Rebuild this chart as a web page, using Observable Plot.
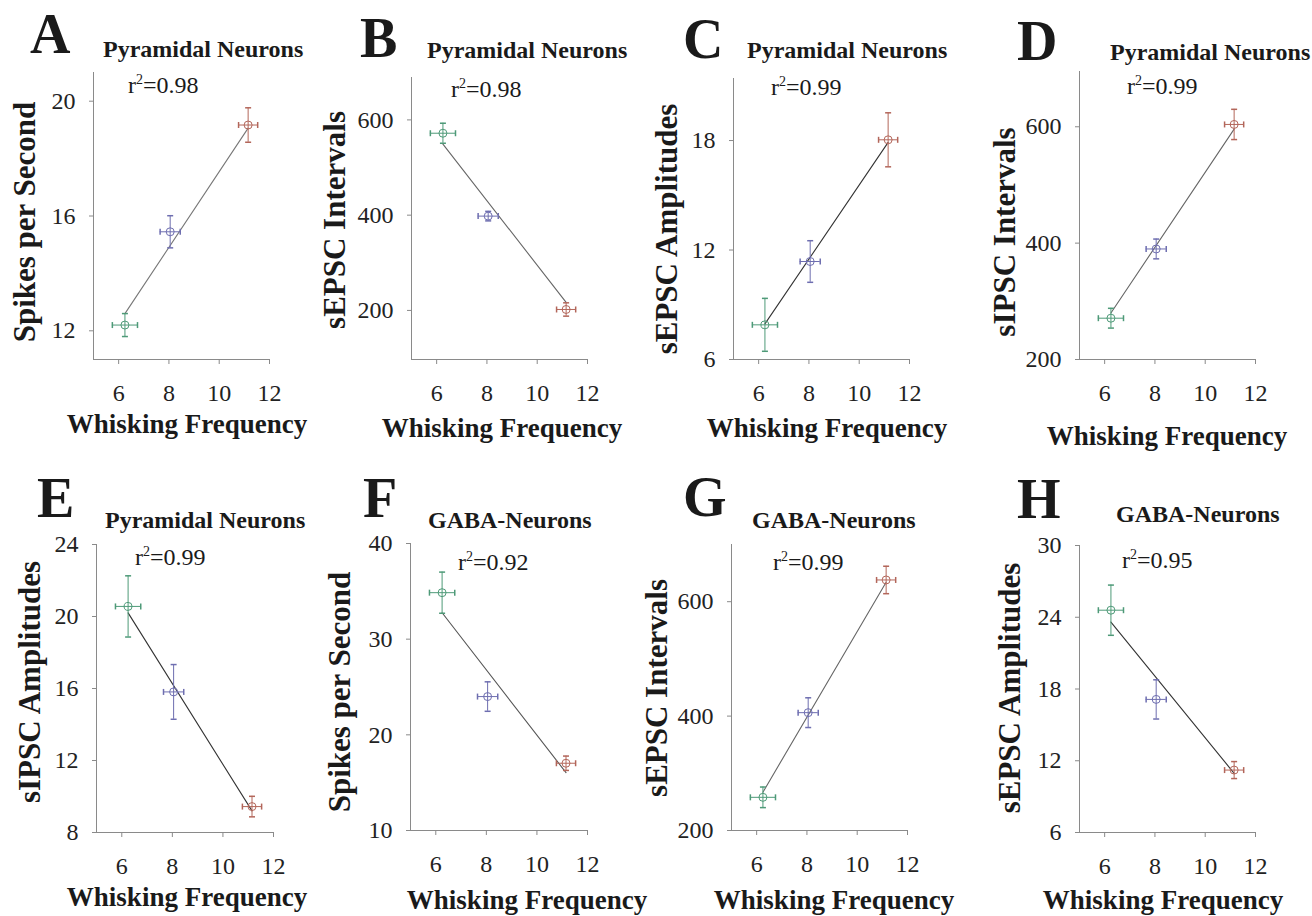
<!DOCTYPE html>
<html>
<head>
<meta charset="utf-8">
<script src="https://cdn.jsdelivr.net/npm/d3@7"></script>
<script src="https://cdn.jsdelivr.net/npm/@observablehq/plot@0.6"></script>
<style>
  html, body { margin: 0; padding: 0; background: #fff; }
  #root { position: relative; width: 1312px; height: 916px; overflow: hidden; background: #fff; }
  #root > svg { position: absolute; }
  #root svg, #root svg text { font-family: "Liberation Serif", "Times New Roman", serif !important; }
</style>
</head>
<body>
<div id="root"></div>
<script>
// ---------- data ----------
const groups = ["6 Hz", "8 Hz", "11 Hz"];
const groupColors = ["#4e9a78", "#6e6eb0", "#b3665a"];
const whisking = [6.25, 8.05, 11.15];
const whiskingErr = [0.5, 0.4, 0.38];
const xDomain = [5, 12];
const xTicks = [6, 8, 10, 12];

// A: Pyramidal spikes
const pyrSpikes = [12.2, 15.45, 19.17];
const pyrSpikesErr = [0.4, 0.56, 0.6];
const pyrSpikesFit = [12.6, 19.06];
// B: Pyramidal sEPSC intervals
const pyrEpscInt = [572, 398, 202];
const pyrEpscIntErr = [21, 10, 14];
const pyrEpscIntFit = [549, 217];
// C: Pyramidal sEPSC amplitudes
const pyrEpscAmp = [7.9, 11.37, 18.04];
const pyrEpscAmpErr = [1.45, 1.14, 1.48];
const pyrEpscAmpFit = [7.95, 17.9];
// D: Pyramidal sIPSC intervals
const pyrIpscInt = [271, 390, 604];
const pyrIpscIntErr = [17, 17, 26];
const pyrIpscIntFit = [280, 596];
// E: Pyramidal sIPSC amplitudes
const pyrIpscAmp = [20.56, 15.81, 9.44];
const pyrIpscAmpErr = [1.7, 1.52, 0.57];
const pyrIpscAmpFit = [20.2, 9.2];
// F: GABA spikes
const gabaSpikes = [34.86, 24.0, 17.03];
const gabaSpikesErr = [2.15, 1.54, 0.75];
const gabaSpikesFit = [32.76, 16.05];
// G: GABA sEPSC intervals
const gabaEpscInt = [258, 406, 638];
const gabaEpscIntErr = [18, 26, 24];
const gabaEpscIntFit = [267, 634];
// H: GABA sEPSC amplitudes
const gabaEpscAmp = [24.59, 17.13, 11.22];
const gabaEpscAmpErr = [2.1, 1.64, 0.71];
const gabaEpscAmpFit = [23.6, 10.95];

const letters = ["A", "B", "C", "D", "E", "F", "G", "H"];
const titles = ["Pyramidal Neurons", "Pyramidal Neurons", "Pyramidal Neurons", "Pyramidal Neurons",
                "Pyramidal Neurons", "GABA-Neurons", "GABA-Neurons", "GABA-Neurons"];
const r2Values = ["0.98", "0.98", "0.99", "0.99", "0.99", "0.92", "0.99", "0.95"];
const yLabels = ["Spikes per Second", "sEPSC Intervals", "sEPSC Amplitudes", "sIPSC Intervals",
                 "sIPSC Amplitudes", "Spikes per Second", "sEPSC Intervals", "sEPSC Amplitudes"];
const xLabel = "Whisking Frequency";
const yValues = [pyrSpikes, pyrEpscInt, pyrEpscAmp, pyrIpscInt, pyrIpscAmp, gabaSpikes, gabaEpscInt, gabaEpscAmp];
const yErrors = [pyrSpikesErr, pyrEpscIntErr, pyrEpscAmpErr, pyrIpscIntErr, pyrIpscAmpErr, gabaSpikesErr, gabaEpscIntErr, gabaEpscAmpErr];
const yFits = [pyrSpikesFit, pyrEpscIntFit, pyrEpscAmpFit, pyrIpscIntFit, pyrIpscAmpFit, gabaSpikesFit, gabaEpscIntFit, gabaEpscAmpFit];
const yDomains = [[11, 21], [97, 689], [6, 21.4], [200, 695], [8, 24], [10, 40], [200, 700], [6, 30]];
const yTicks = [[12, 16, 20], [200, 400, 600], [6, 12, 18], [200, 400, 600],
                [8, 12, 16, 20, 24], [10, 20, 30, 40], [200, 400, 600], [6, 12, 18, 24, 30]];

// ---------- layout (page pixels) ----------
const layout = [
  {L: 93,   R: 269,  T: 72,  B: 359, letter: [30, 53],   title: [103, 57],  r2: [128, 93],  ylab: [35, 222],   xlab: [187, 433],  fit: "#777"},
  {L: 411,  R: 587,  T: 77,  B: 359, letter: [360, 57],  title: [427, 58],  r2: [451, 97],  ylab: [345, 220],  xlab: [502, 437],  fit: "#666"},
  {L: 733,  R: 909,  T: 78,  B: 359, letter: [683, 58],  title: [747, 58],  r2: [771, 95],  ylab: [677, 229],  xlab: [827, 437],  fit: "#333"},
  {L: 1079, R: 1255, T: 71,  B: 359, letter: [1017, 60], title: [1110, 60], r2: [1127, 94], ylab: [1015, 232], xlab: [1167, 445], fit: "#666"},
  {L: 96,   R: 273,  T: 544, B: 832, letter: [37, 517],  title: [105, 528], r2: [135, 565], ylab: [40, 682],   xlab: [187, 906],  fit: "#333"},
  {L: 410,  R: 587,  T: 543, B: 830, letter: [363, 517], title: [428, 528], r2: [458, 570], ylab: [350, 692],  xlab: [527, 909],  fit: "#555"},
  {L: 731,  R: 907,  T: 544, B: 830, letter: [683, 516], title: [752, 528], r2: [773, 570], ylab: [667, 688],  xlab: [834, 909],  fit: "#666"},
  {L: 1079, R: 1255, T: 545, B: 832, letter: [1017, 518],title: [1116, 522],r2: [1122, 568], ylab: [1020, 688], xlab: [1163, 909], fit: "#333"}
];

const FONT = "'Liberation Serif', 'Times New Roman', serif";
const AXIS = "#8a8a8a";

// cap symbols for error bars
const hCap = {draw(ctx, size) { const w = Math.sqrt(size / Math.PI); ctx.moveTo(-w, 0); ctx.lineTo(w, 0); }};
const vCap = {draw(ctx, size) { const w = Math.sqrt(size / Math.PI); ctx.moveTo(0, -w); ctx.lineTo(0, w); }};

const root = document.getElementById("root");
const mL = 80, mR = 20, mT = 20, mB = 60;
const fmt = d => String(d);

letters.forEach((_, k) => {
  const g = layout[k];
  const rows = whisking.map((x, i) => ({group: groups[i], x, xe: whiskingErr[i], y: yValues[k][i], ye: yErrors[k][i]}));
  const fitRows = [{x: whisking[0], y: yFits[k][0]}, {x: whisking[2], y: yFits[k][1]}];
  const chart = Plot.plot({
    width: g.R - g.L + mL + mR,
    height: g.B - g.T + mT + mB,
    marginLeft: mL, marginRight: mR, marginTop: mT, marginBottom: mB,
    x: {domain: xDomain},
    y: {domain: yDomains[k]},
    color: {domain: groups, range: groupColors},
    style: {background: "transparent", overflow: "visible", fontFamily: FONT, fontSize: "24px", color: "#222"},
    marks: [
      Plot.ruleX([xDomain[0]], {stroke: AXIS, strokeWidth: 1}),
      Plot.ruleY([yDomains[k][0]], {stroke: AXIS, strokeWidth: 1}),
      Plot.axisX({ticks: xTicks, tickFormat: fmt, tickSize: 5, tickPadding: 19, stroke: AXIS, fill: "#222", fontSize: 24, fontFamily: FONT, label: null}),
      Plot.axisY({ticks: yTicks[k], tickFormat: fmt, tickSize: 4, tickPadding: 14, stroke: AXIS, fill: "#222", fontSize: 24, fontFamily: FONT, label: null}),
      Plot.line(fitRows, {x: "x", y: "y", stroke: g.fit, strokeWidth: 1.1}),
      Plot.ruleX(rows, {x: "x", y1: d => d.y - d.ye, y2: d => d.y + d.ye, stroke: "group", strokeWidth: 1}),
      Plot.ruleY(rows, {y: "y", x1: d => d.x - d.xe, x2: d => d.x + d.xe, stroke: "group", strokeWidth: 1}),
      Plot.dot(rows, {x: "x", y: d => d.y - d.ye, symbol: hCap, r: 3, stroke: "group", fill: "none"}),
      Plot.dot(rows, {x: "x", y: d => d.y + d.ye, symbol: hCap, r: 3, stroke: "group", fill: "none"}),
      Plot.dot(rows, {x: d => d.x - d.xe, y: "y", symbol: vCap, r: 3, stroke: "group", fill: "none"}),
      Plot.dot(rows, {x: d => d.x + d.xe, y: "y", symbol: vCap, r: 3, stroke: "group", fill: "none"}),
      Plot.dot(rows, {x: "x", y: "y", r: 4, stroke: "group", fill: "none", strokeWidth: 1})
    ]
  });
  d3.select(chart).selectAll("text, g")
    .style("font-family", "'Liberation Serif', serif", "important")
    .style("font-variant", "normal", "important");
  chart.style.left = (g.L - mL) + "px";
  chart.style.top = (g.T - mT) + "px";
  root.appendChild(chart);
});

// ---------- text overlay ----------
const overlay = d3.create("svg")
  .attr("width", 1312).attr("height", 916)
  .style("left", "0px").style("top", "0px").style("pointer-events", "none")
  .attr("font-family", FONT).attr("fill", "#1a1a1a");

letters.forEach((letter, k) => {
  const g = layout[k];
  overlay.append("text").attr("x", g.letter[0]).attr("y", g.letter[1])
    .attr("font-size", 56).attr("font-weight", "bold").text(letter);
  overlay.append("text").attr("x", g.title[0]).attr("y", g.title[1])
    .attr("font-size", 24).attr("font-weight", "bold").text(titles[k]);
  const r = overlay.append("text").attr("x", g.r2[0]).attr("y", g.r2[1]).attr("font-size", 24);
  r.append("tspan").text("r");
  r.append("tspan").attr("font-size", 14).attr("dy", -9).text("2");
  r.append("tspan").attr("dy", 9).text("=" + r2Values[k]);
  overlay.append("text").attr("transform", `translate(${g.ylab[0]},${g.ylab[1]}) rotate(-90)`)
    .attr("text-anchor", "middle").attr("font-size", 31).attr("font-weight", "bold").text(yLabels[k]);
  overlay.append("text").attr("x", g.xlab[0]).attr("y", g.xlab[1])
    .attr("text-anchor", "middle").attr("font-size", 27).attr("font-weight", "bold").text(xLabel);
});
root.appendChild(overlay.node());
</script>
</body>
</html>
